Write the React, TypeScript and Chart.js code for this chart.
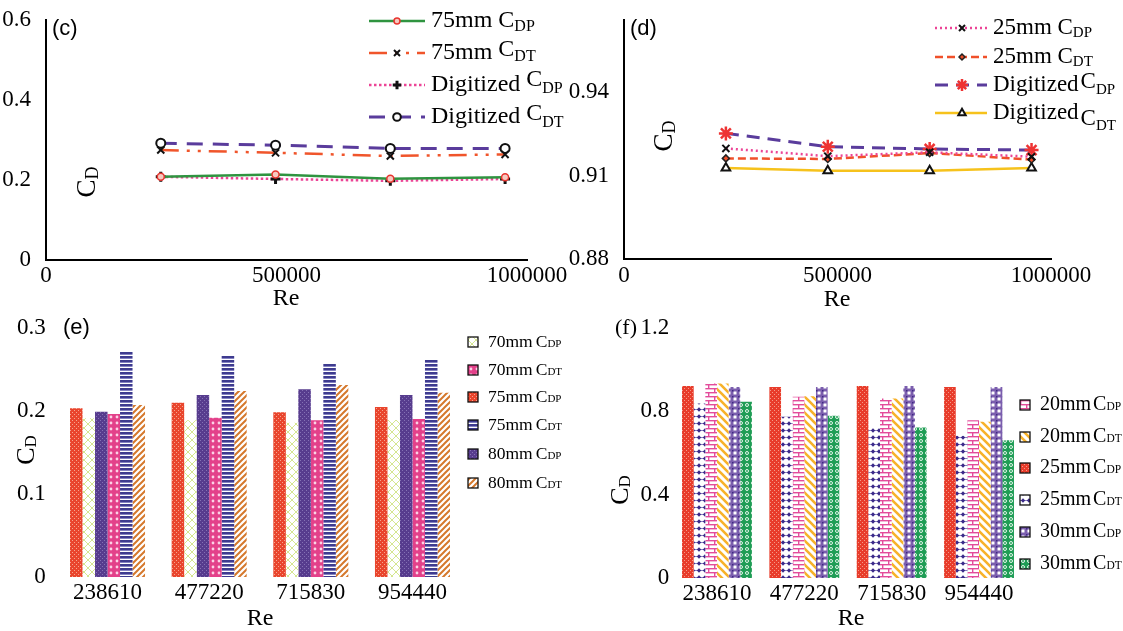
import React, { useEffect, useRef } from 'react';
import { Chart, registerables } from 'chart.js';
import { drawPoint } from 'chart.js/helpers';

Chart.register(...registerables);

const W = 1123;
const H = 631;
const SERIF = "'Liberation Serif', 'Times New Roman', serif";
const SANS = "'Liberation Sans', Arial, sans-serif";

// ---------- data ----------
const reValues = [238610, 477220, 715830, 954440];
const reLabels = ['238610', '477220', '715830', '954440'];

// panel (c)
const c75DP = [0.208, 0.214, 0.203, 0.207];
const c75DT = [0.275, 0.268, 0.26, 0.264];
const cDigDP = [0.208, 0.2025, 0.198, 0.2025];
const cDigDT = [0.292, 0.287, 0.279, 0.279];
const xTicksLine = [0, 500000, 1000000];
const yTicksC = [0, 0.2, 0.4, 0.6];

// panel (d)
const d25DP = [0.9198, 0.917, 0.9184, 0.9168];
const d25DT = [0.9162, 0.916, 0.9181, 0.9158];
const dDigDP = [0.9252, 0.9204, 0.9196, 0.9192];
const dDigDT = [0.9127, 0.9118, 0.9118, 0.9127];
const yTicksD = [0.88, 0.91, 0.94];

// panel (e)
const e75DP = [0.2033, 0.21, 0.1984, 0.2048];
const e70DP = [0.1912, 0.189, 0.1859, 0.1892];
const e80DP = [0.1992, 0.2193, 0.2261, 0.2193];
const e70DT = [0.1964, 0.1919, 0.1888, 0.1904];
const e75DT = [0.2714, 0.2675, 0.2566, 0.2623];
const e80DT = [0.2072, 0.2241, 0.2313, 0.222];
const yTicksE = [0, 0.1, 0.2, 0.3];

// panel (f)
const f25DP = [0.92, 0.915, 0.92, 0.915];
const f25DT = [0.836, 0.772, 0.724, 0.681];
const f20DP = [0.932, 0.868, 0.86, 0.756];
const f20DT = [0.932, 0.871, 0.86, 0.748];
const f30DP = [0.915, 0.915, 0.92, 0.915];
const f30DT = [0.844, 0.777, 0.721, 0.66];
const yTicksF = [0, 0.4, 0.8, 1.2];

// ---------- helpers ----------
type Part = { t: string; size: number; dy?: number; dx?: number; family?: string };
type Frame = { left: number; top: number; right: number; bottom: number };

function drawRich(ctx: CanvasRenderingContext2D, x: number, y: number, parts: Part[], align = 'left', rotate = 0) {
  ctx.save();
  ctx.translate(x, y);
  if (rotate) ctx.rotate(rotate);
  ctx.textBaseline = 'middle';
  ctx.textAlign = 'left';
  ctx.fillStyle = '#000';
  const ws = parts.map((p) => {
    ctx.font = `${p.size}px ${p.family || SERIF}`;
    return ctx.measureText(p.t).width + (p.dx || 0);
  });
  const total = ws.reduce((a, b) => a + b, 0);
  let cx = align === 'center' ? -total / 2 : align === 'right' ? -total : 0;
  parts.forEach((p, i) => {
    ctx.font = `${p.size}px ${p.family || SERIF}`;
    ctx.fillText(p.t, cx + (p.dx || 0), p.dy || 0);
    cx += ws[i];
  });
  ctx.restore();
}

type TextItem = { x: number; y: number; parts: Part[]; align?: string; rotate?: number };

function overlayPlugin(items: TextItem[]) {
  return {
    id: 'overlayText',
    afterDraw(chart: any) {
      const ctx = chart.ctx;
      items.forEach((it) => drawRich(ctx, it.x, it.y, it.parts, it.align || 'left', it.rotate || 0));
    },
  };
}

type LegendRow = { ds: number; y: number; parts: Part[] };

function lineLegendPlugin(rows: LegendRow[], x0: number, x1: number, mx: number, tx: number) {
  return {
    id: 'lineLegend',
    afterDraw(chart: any) {
      const ctx = chart.ctx;
      rows.forEach((r) => {
        const ds = chart.data.datasets[r.ds];
        ctx.save();
        ctx.strokeStyle = ds.borderColor;
        ctx.lineWidth = ds.borderWidth;
        ctx.setLineDash(ds.borderDash || []);
        ctx.beginPath();
        ctx.moveTo(x0, r.y);
        ctx.lineTo(x1, r.y);
        ctx.stroke();
        ctx.setLineDash([]);
        ctx.fillStyle = ds.pointBackgroundColor;
        ctx.strokeStyle = ds.pointBorderColor;
        ctx.lineWidth = ds.pointBorderWidth;
        drawPoint(ctx, { pointStyle: ds.pointStyle, radius: ds.pointRadius * 0.85, rotation: 0, borderWidth: ds.pointBorderWidth } as any, mx, r.y);
        ctx.restore();
        drawRich(ctx, tx, r.y, r.parts);
      });
    },
  };
}

function barLegendPlugin(rows: LegendRow[], sx: number, size: number, tx: number) {
  return {
    id: 'barLegend',
    afterDraw(chart: any) {
      const ctx = chart.ctx;
      rows.forEach((r) => {
        const ds = chart.data.datasets[r.ds];
        ctx.save();
        ctx.fillStyle = ds.backgroundColor;
        ctx.fillRect(sx, r.y - size / 2, size, size);
        ctx.strokeStyle = '#111';
        ctx.lineWidth = 1.3;
        ctx.strokeRect(sx, r.y - size / 2, size, size);
        ctx.restore();
        drawRich(ctx, tx, r.y, r.parts);
      });
    },
  };
}

function pat(w: number, h: number, draw: (g: CanvasRenderingContext2D) => void): CanvasPattern {
  const c = document.createElement('canvas');
  c.width = w;
  c.height = h;
  const g = c.getContext('2d')!;
  draw(g);
  return g.createPattern(c, 'repeat')!;
}

const tickFont = { family: SERIF, size: 23 };
const fmt = (v: any) => String(+Number(v).toFixed(3));

function layoutFor(f: Frame) {
  return {
    autoPadding: false,
    padding: { left: 0, top: f.top, right: W - f.right, bottom: H - f.bottom - 40 },
  };
}
function fitY(f: Frame) {
  return (s: any) => {
    s.width = f.left;
    s.paddingTop = 0;
    s.paddingBottom = 0;
  };
}
const fitX = (s: any) => {
  s.height = 40;
  s.paddingLeft = 0;
  s.paddingRight = 0;
};
const setTicks = (vals: number[]) => (s: any) => {
  s.ticks = vals.map((v) => ({ value: v }));
};

const cd = (size: number, sub: number, dy: number): Part[] => [
  { t: 'C', size },
  { t: 'D', size: sub, dy },
];

function toXY(ys: number[]) {
  return reValues.map((x, i) => ({ x, y: ys[i] }));
}

// ---------- panels ----------
function makeC(canvas: HTMLCanvasElement) {
  const frame: Frame = { left: 46, top: 20, right: 527, bottom: 260 };
  const legendRows: LegendRow[] = [
    { ds: 0, y: 21, parts: [{ t: '75mm ', size: 24 }, { t: 'C', size: 24 }, { t: 'DP', size: 16, dy: 6 }] },
    { ds: 1, y: 53, parts: [{ t: '75mm ', size: 24 }, { t: 'C', size: 24, dy: -3 }, { t: 'DT', size: 16, dy: 4 }] },
    { ds: 2, y: 85, parts: [{ t: 'Digitized ', size: 24 }, { t: 'C', size: 24, dy: -5 }, { t: 'DP', size: 16, dy: 4 }] },
    { ds: 3, y: 117, parts: [{ t: 'Digitized ', size: 24 }, { t: 'C', size: 24, dy: -3 }, { t: 'DT', size: 16, dy: 6 }] },
  ];
  return new Chart(canvas, {
    type: 'line',
    data: {
      datasets: [
        {
          label: '75mm CDP', data: toXY(c75DP), borderColor: '#2f9440', borderWidth: 2.5,
          pointStyle: 'circle', pointRadius: 3.5, pointBorderColor: '#e8352f', pointBackgroundColor: '#f7c9c0', pointBorderWidth: 1.5,
        },
        {
          label: '75mm CDT', data: toXY(c75DT), borderColor: '#f0552b', borderWidth: 2.5, borderDash: [18, 8, 3, 8, 3, 8],
          pointStyle: 'crossRot', pointRadius: 5, pointBorderColor: '#111', pointBackgroundColor: '#111', pointBorderWidth: 2,
        },
        {
          label: 'Digitized CDP', data: toXY(cDigDP), borderColor: '#ec4496', borderWidth: 2.5, borderDash: [2.5, 2.5],
          pointStyle: 'cross', pointRadius: 5, pointBorderColor: '#111', pointBackgroundColor: '#111', pointBorderWidth: 3,
        },
        {
          label: 'Digitized CDT', data: toXY(cDigDT), borderColor: '#5a3c9c', borderWidth: 3, borderDash: [16, 10],
          pointStyle: 'circle', pointRadius: 4.5, pointBorderColor: '#111', pointBackgroundColor: '#fff', pointBorderWidth: 2,
        },
      ] as any,
    },
    options: {
      animation: false,
      responsive: false,
      devicePixelRatio: 1,
      layout: layoutFor(frame),
      plugins: { legend: { display: false }, tooltip: { enabled: false } },
      scales: {
        x: {
          type: 'linear', min: 0, max: 1000000,
          grid: { display: false }, border: { display: true, color: '#000', width: 2 },
          ticks: { font: tickFont, color: '#000', padding: -6, maxRotation: 0, autoSkip: false, callback: (v: any) => String(v) },
          afterBuildTicks: setTicks(xTicksLine), afterFit: fitX,
        },
        y: {
          min: 0, max: 0.6,
          grid: { display: false }, border: { display: true, color: '#000', width: 2 },
          ticks: { font: tickFont, color: '#000', padding: 7, callback: fmt },
          afterBuildTicks: setTicks(yTicksC), afterFit: fitY(frame),
        },
      },
    } as any,
    plugins: [
      overlayPlugin([
        { x: 52, y: 29, parts: [{ t: '(c)', size: 22, family: SANS }] },
        { x: 88, y: 182, parts: cd(27, 18, 5), align: 'center', rotate: -Math.PI / 2 },
        { x: 286, y: 299, parts: [{ t: 'Re', size: 24 }], align: 'center' },
      ]),
      lineLegendPlugin(legendRows, 369, 425, 397, 431),
    ],
  });
}

function makeD(canvas: HTMLCanvasElement) {
  const frame: Frame = { left: 624, top: 20, right: 1051, bottom: 259 };
  const legendRows: LegendRow[] = [
    { ds: 0, y: 28, parts: [{ t: '25mm ', size: 23 }, { t: 'C', size: 23 }, { t: 'DP', size: 15, dy: 5 }] },
    { ds: 1, y: 57, parts: [{ t: '25mm ', size: 23 }, { t: 'C', size: 23 }, { t: 'DT', size: 15, dy: 5 }] },
    { ds: 2, y: 85, parts: [{ t: 'Digitized', size: 23 }, { t: 'C', size: 23, dy: -3, dx: 2 }, { t: 'DP', size: 15, dy: 5 }] },
    { ds: 3, y: 113, parts: [{ t: 'Digitized', size: 23 }, { t: 'C', size: 23, dy: 6, dx: 2 }, { t: 'DT', size: 15, dy: 13 }] },
  ];
  return new Chart(canvas, {
    type: 'line',
    data: {
      datasets: [
        {
          label: '25mm CDP', data: toXY(d25DP), borderColor: '#ec4496', borderWidth: 2.5, borderDash: [2, 3],
          pointStyle: 'crossRot', pointRadius: 5, pointBorderColor: '#111', pointBackgroundColor: '#111', pointBorderWidth: 2,
        },
        {
          label: '25mm CDT', data: toXY(d25DT), borderColor: '#f0502a', borderWidth: 2.5, borderDash: [8, 4],
          pointStyle: 'rectRot', pointRadius: 3.5, pointBorderColor: '#222', pointBackgroundColor: '#f0502a', pointBorderWidth: 1.5,
        },
        {
          label: 'Digitized CDP', data: toXY(dDigDP), borderColor: '#5a3c9c', borderWidth: 3, borderDash: [13, 8],
          pointStyle: 'star', pointRadius: 7, pointBorderColor: '#ee3333', pointBackgroundColor: '#ee3333', pointBorderWidth: 2.5,
        },
        {
          label: 'Digitized CDT', data: toXY(dDigDT), borderColor: '#f6c21c', borderWidth: 2.5,
          pointStyle: 'triangle', pointRadius: 5, pointBorderColor: '#111', pointBackgroundColor: '#fff', pointBorderWidth: 2,
        },
      ] as any,
    },
    options: {
      animation: false,
      responsive: false,
      devicePixelRatio: 1,
      layout: layoutFor(frame),
      plugins: { legend: { display: false }, tooltip: { enabled: false } },
      scales: {
        x: {
          type: 'linear', min: 0, max: 1000000,
          grid: { display: false }, border: { display: true, color: '#000', width: 2 },
          ticks: { font: tickFont, color: '#000', padding: -5, maxRotation: 0, autoSkip: false, callback: (v: any) => String(v) },
          afterBuildTicks: setTicks(xTicksLine), afterFit: fitX,
        },
        y: {
          min: 0.88, max: 0.966,
          grid: { display: false }, border: { display: true, color: '#000', width: 2 },
          ticks: { font: tickFont, color: '#000', padding: 7, callback: fmt },
          afterBuildTicks: setTicks(yTicksD), afterFit: fitY(frame),
        },
      },
    } as any,
    plugins: [
      overlayPlugin([
        { x: 630, y: 29, parts: [{ t: '(d)', size: 22, family: SANS }] },
        { x: 665, y: 136, parts: cd(27, 18, 5), align: 'center', rotate: -Math.PI / 2 },
        { x: 837, y: 300, parts: [{ t: 'Re', size: 24 }], align: 'center' },
      ]),
      lineLegendPlugin(legendRows, 935, 987, 962, 993),
    ],
  });
}

function makeE(canvas: HTMLCanvasElement) {
  const frame: Frame = { left: 56.7, top: 328, right: 463.3, bottom: 577 };
  const red = pat(4, 4, (g) => {
    g.fillStyle = '#e9452d'; g.fillRect(0, 0, 4, 4);
    g.fillStyle = '#f6a48e'; g.fillRect(0, 0, 1, 1); g.fillRect(2, 2, 1, 1);
  });
  const yg = pat(8, 8, (g) => {
    g.fillStyle = '#fff'; g.fillRect(0, 0, 8, 8);
    g.strokeStyle = '#d5e690'; g.lineWidth = 1;
    g.beginPath(); g.moveTo(0, 0); g.lineTo(8, 8); g.moveTo(8, 0); g.lineTo(0, 8); g.stroke();
  });
  const purple = pat(4, 4, (g) => {
    g.fillStyle = '#573c8e'; g.fillRect(0, 0, 4, 4);
    g.fillStyle = '#8571b5'; g.fillRect(0, 0, 1, 1); g.fillRect(2, 2, 1, 1);
  });
  const pink = pat(6, 6, (g) => {
    g.fillStyle = '#e3418a'; g.fillRect(0, 0, 6, 6);
    g.fillStyle = '#fbd3e6'; g.beginPath(); g.arc(3, 3, 1.4, 0, Math.PI * 2); g.fill();
  });
  const blue = pat(4, 4, (g) => {
    g.fillStyle = '#3e3b8f'; g.fillRect(0, 0, 4, 4);
    g.fillStyle = '#8583c2'; g.fillRect(0, 2, 4, 1);
    g.fillStyle = '#ffffff'; g.fillRect(0, 3, 4, 1);
  });
  const orange = pat(6, 6, (g) => {
    g.fillStyle = '#fff'; g.fillRect(0, 0, 6, 6);
    g.strokeStyle = '#d5782c'; g.lineWidth = 2;
    g.beginPath();
    g.moveTo(0, 6); g.lineTo(6, 0);
    g.moveTo(-3, 3); g.lineTo(3, -3);
    g.moveTo(3, 9); g.lineTo(9, 3);
    g.stroke();
  });
  const lp = (a: string, b: string): Part[] => [{ t: a, size: 17.5 }, { t: 'C', size: 17.5, dx: 3 }, { t: b, size: 11, dy: 2 }];
  const legendRows: LegendRow[] = [
    { ds: 1, y: 342, parts: lp('70mm', 'DP') },
    { ds: 3, y: 370, parts: lp('70mm', 'DT') },
    { ds: 0, y: 397, parts: lp('75mm', 'DP') },
    { ds: 4, y: 425, parts: lp('75mm', 'DT') },
    { ds: 2, y: 454, parts: lp('80mm', 'DP') },
    { ds: 5, y: 483, parts: lp('80mm', 'DT') },
  ];
  const bar = (label: string, data: number[], bg: any) => ({ label, data, backgroundColor: bg, borderWidth: 0, barPercentage: 1, categoryPercentage: 0.738 });
  return new Chart(canvas, {
    type: 'bar',
    data: {
      labels: reLabels,
      datasets: [
        bar('75mm CDP', e75DP, red),
        bar('70mm CDP', e70DP, yg),
        bar('80mm CDP', e80DP, purple),
        bar('70mm CDT', e70DT, pink),
        bar('75mm CDT', e75DT, blue),
        bar('80mm CDT', e80DT, orange),
      ],
    },
    options: {
      animation: false,
      responsive: false,
      devicePixelRatio: 1,
      layout: layoutFor(frame),
      plugins: { legend: { display: false }, tooltip: { enabled: false } },
      scales: {
        x: {
          grid: { display: false }, border: { display: false },
          ticks: { font: tickFont, color: '#000', padding: -6, maxRotation: 0, autoSkip: false },
          afterFit: fitX,
        },
        y: {
          min: 0, max: 0.3,
          grid: { display: false }, border: { display: false },
          ticks: { font: tickFont, color: '#000', padding: 3, callback: fmt },
          afterBuildTicks: setTicks(yTicksE), afterFit: fitY(frame),
        },
      },
    } as any,
    plugins: [
      overlayPlugin([
        { x: 63, y: 328, parts: [{ t: '(e)', size: 22, family: SANS }] },
        { x: 27, y: 450, parts: cd(26, 17, 5), align: 'center', rotate: -Math.PI / 2 },
        { x: 260, y: 619, parts: [{ t: 'Re', size: 24 }], align: 'center' },
      ]),
      barLegendPlugin(legendRows, 468, 10, 488),
    ],
  });
}

function makeF(canvas: HTMLCanvasElement) {
  const frame: Frame = { left: 673.3, top: 327.5, right: 1022.7, bottom: 578 };
  const red = pat(4, 4, (g) => {
    g.fillStyle = '#e83c2b'; g.fillRect(0, 0, 4, 4);
    g.fillStyle = '#f59a88'; g.fillRect(0, 0, 1, 1); g.fillRect(2, 2, 1, 1);
  });
  const navy = pat(6, 7, (g) => {
    g.fillStyle = '#fff'; g.fillRect(0, 0, 6, 7);
    g.fillStyle = '#8a80c0'; g.fillRect(0, 3, 6, 1);
    g.fillStyle = '#3b2a8a';
    g.beginPath(); g.moveTo(3, 1.3); g.lineTo(5.2, 3.5); g.lineTo(3, 5.7); g.lineTo(0.8, 3.5); g.closePath(); g.fill();
  });
  const brick = pat(12, 8, (g) => {
    g.fillStyle = '#fff'; g.fillRect(0, 0, 12, 8);
    g.fillStyle = '#e34c9b';
    g.fillRect(0, 0, 12, 1.4); g.fillRect(0, 4, 12, 1.4);
    g.fillRect(0, 0, 1.4, 4); g.fillRect(6, 4, 1.4, 4);
  });
  const yellow = pat(8, 8, (g) => {
    g.fillStyle = '#fff'; g.fillRect(0, 0, 8, 8);
    g.strokeStyle = '#f7b22a'; g.lineWidth = 2.6;
    g.beginPath();
    g.moveTo(0, 0); g.lineTo(8, 8);
    g.moveTo(-4, 4); g.lineTo(4, 12);
    g.moveTo(4, -4); g.lineTo(12, 4);
    g.stroke();
  });
  const purple = pat(6, 6, (g) => {
    g.fillStyle = '#7b5eae'; g.fillRect(0, 0, 6, 6);
    g.fillStyle = '#ffffff'; g.fillRect(1.5, 1.5, 3, 3);
    g.fillStyle = '#3e2a82'; g.fillRect(0, 0, 1.5, 1.5);
  });
  const green = pat(6, 6, (g) => {
    g.fillStyle = '#1f9d55'; g.fillRect(0, 0, 6, 6);
    g.strokeStyle = '#e4f6ea'; g.lineWidth = 1;
    g.beginPath(); g.arc(3, 3, 1.5, 0, Math.PI * 2); g.stroke();
  });
  const lp = (a: string, b: string): Part[] => [{ t: a, size: 20 }, { t: 'C', size: 20, dx: 2 }, { t: b, size: 11.5, dy: 2 }];
  const legendRows: LegendRow[] = [
    { ds: 2, y: 405, parts: lp('20mm', 'DP') },
    { ds: 3, y: 437, parts: lp('20mm', 'DT') },
    { ds: 0, y: 468, parts: lp('25mm', 'DP') },
    { ds: 1, y: 500, parts: lp('25mm', 'DT') },
    { ds: 4, y: 532, parts: lp('30mm', 'DP') },
    { ds: 5, y: 564, parts: lp('30mm', 'DT') },
  ];
  const bar = (label: string, data: number[], bg: any) => ({ label, data, backgroundColor: bg, borderWidth: 0, barPercentage: 1, categoryPercentage: 0.8 });
  return new Chart(canvas, {
    type: 'bar',
    data: {
      labels: reLabels,
      datasets: [
        bar('25mm CDP', f25DP, red),
        bar('25mm CDT', f25DT, navy),
        bar('20mm CDP', f20DP, brick),
        bar('20mm CDT', f20DT, yellow),
        bar('30mm CDP', f30DP, purple),
        bar('30mm CDT', f30DT, green),
      ],
    },
    options: {
      animation: false,
      responsive: false,
      devicePixelRatio: 1,
      layout: layoutFor(frame),
      plugins: { legend: { display: false }, tooltip: { enabled: false } },
      scales: {
        x: {
          grid: { display: false }, border: { display: false },
          ticks: { font: tickFont, color: '#000', padding: -6, maxRotation: 0, autoSkip: false },
          afterFit: fitX,
        },
        y: {
          min: 0, max: 1.2,
          grid: { display: false }, border: { display: false },
          ticks: { font: tickFont, color: '#000', padding: -4, callback: fmt },
          afterBuildTicks: setTicks(yTicksF), afterFit: fitY(frame),
        },
      },
    } as any,
    plugins: [
      overlayPlugin([
        { x: 615, y: 328, parts: [{ t: '(f)', size: 22 }] },
        { x: 621, y: 490, parts: cd(26, 17, 5), align: 'center', rotate: -Math.PI / 2 },
        { x: 851, y: 619, parts: [{ t: 'Re', size: 24 }], align: 'center' },
      ]),
      barLegendPlugin(legendRows, 1020, 10, 1040),
    ],
  });
}

export default function App() {
  const r0 = useRef<HTMLCanvasElement>(null);
  const r1 = useRef<HTMLCanvasElement>(null);
  const r2 = useRef<HTMLCanvasElement>(null);
  const r3 = useRef<HTMLCanvasElement>(null);
  const refs = [r0, r1, r2, r3];

  useEffect(() => {
    const charts = [makeC(r0.current!), makeD(r1.current!), makeE(r2.current!), makeF(r3.current!)];
    return () => charts.forEach((c) => c.destroy());
  }, []);

  return (
    <div style={{ position: 'absolute', left: 0, top: 0, width: W, height: H, background: '#fff', overflow: 'hidden' }}>
      {refs.map((r, i) => (
        <canvas
          key={i}
          ref={r}
          width={W}
          height={H}
          style={{ position: 'absolute', left: 0, top: 0, width: W, height: H }}
        />
      ))}
    </div>
  );
}
